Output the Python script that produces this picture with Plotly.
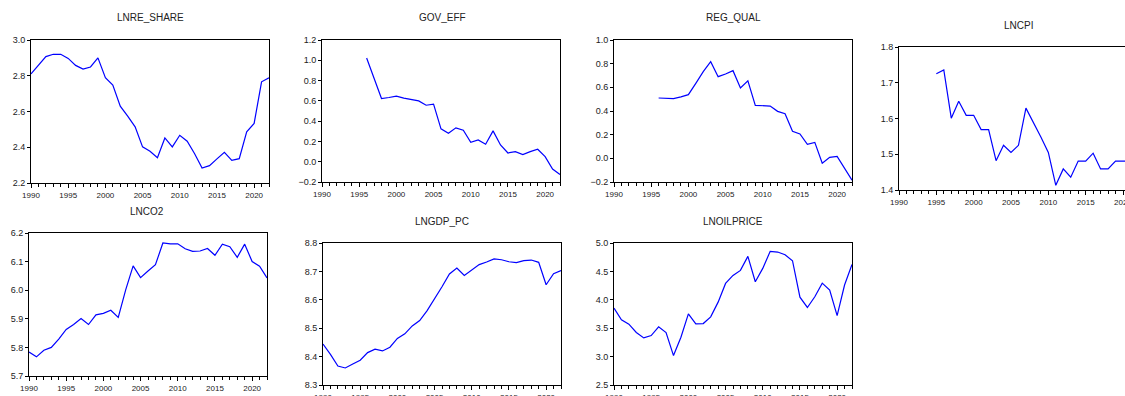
import plotly.graph_objects as go

years = list(range(1990, 2023))
years_96 = list(range(1996, 2023))
years_95 = list(range(1995, 2023))

lnre_share = [2.81, 2.86, 2.907, 2.92, 2.92, 2.897, 2.858, 2.837, 2.849, 2.90,
              2.789, 2.748, 2.63, 2.574, 2.514, 2.402, 2.378, 2.342, 2.452, 2.402,
              2.467, 2.434, 2.364, 2.284, 2.297, 2.335, 2.372, 2.327, 2.336, 2.486,
              2.533, 2.766, 2.789]

gov_eff = [1.022, 0.82, 0.623, 0.633, 0.646, 0.627, 0.610, 0.60, 0.557, 0.567,
           0.324, 0.281, 0.334, 0.31, 0.192, 0.215, 0.172, 0.304, 0.165, 0.086,
           0.10, 0.07, 0.10, 0.123, 0.05, -0.072, -0.125]

reg_qual = [0.51, 0.51, 0.504, 0.52, 0.538, 0.634, 0.732, 0.817, 0.69, 0.713,
            0.741, 0.594, 0.654, 0.448, 0.442, 0.442, 0.397, 0.377, 0.228, 0.206,
            0.118, 0.135, -0.042, 0.008, 0.017, -0.08, -0.185]

lncpi = [1.725, 1.736, 1.601, 1.648, 1.609, 1.609, 1.569, 1.569, 1.482, 1.525,
         1.505, 1.525, 1.629, 1.59, 1.548, 1.505, 1.413, 1.459, 1.436, 1.481,
         1.481, 1.503, 1.459, 1.459, 1.481, 1.481, 1.481, 1.481]

lnco2 = [5.784, 5.767, 5.79, 5.80, 5.829, 5.863, 5.88, 5.901, 5.88, 5.914,
         5.919, 5.93, 5.905, 6.001, 6.085, 6.044, 6.067, 6.089, 6.165, 6.162,
         6.162, 6.145, 6.136, 6.137, 6.146, 6.122, 6.161, 6.152, 6.115, 6.161,
         6.10, 6.084, 6.043]

lngdp_pc = [8.444, 8.408, 8.367, 8.36, 8.374, 8.387, 8.414, 8.426, 8.42, 8.433,
            8.464, 8.48, 8.508, 8.527, 8.562, 8.602, 8.646, 8.691, 8.712, 8.686,
            8.705, 8.724, 8.733, 8.744, 8.741, 8.734, 8.731, 8.738, 8.74, 8.732,
            8.653, 8.692, 8.703]

lnoilprice = [3.853, 3.647, 3.571, 3.424, 3.329, 3.371, 3.524, 3.424, 3.018, 3.341,
              3.753, 3.576, 3.582, 3.70, 3.959, 4.288, 4.429, 4.518, 4.765, 4.318,
              4.553, 4.853, 4.841, 4.794, 4.688, 4.047, 3.865, 4.053, 4.294, 4.171,
              3.72, 4.26, 4.62]

titles = ["LNRE_SHARE", "GOV_EFF", "REG_QUAL", "LNCPI", "LNCO2", "LNGDP_PC", "LNOILPRICE"]
series = [(years, lnre_share), (years_96, gov_eff), (years_96, reg_qual), (years_95, lncpi),
          (years, lnco2), (years, lngdp_pc), (years, lnoilprice)]
yranges = [(2.2, 3.0, 0.2), (-0.2, 1.2, 0.2), (-0.2, 1.0, 0.2), (1.4, 1.8, 0.1),
           (5.7, 6.2, 0.1), (8.3, 8.8, 0.1), (2.5, 5.0, 0.5)]

W, H = 1125, 396
# pixel boxes: left, right, top, bottom
boxes = [(31, 269, 40, 183), (322, 560, 40, 182), (614, 852, 40, 182), (899, 1125, 47, 190),
         (29, 267, 233, 376), (323, 561, 243, 385), (614, 852, 243, 385)]
title_x = [150, 442, 733, 1018, 147, 442, 733]

fig = go.Figure()
layout = dict(template="none", width=W, height=H, margin=dict(l=0, r=0, t=0, b=0, pad=0),
              autosize=False,
              paper_bgcolor="white", plot_bgcolor="white", showlegend=False,
              font=dict(family="Liberation Sans, Arial, sans-serif", color="#222"))
annotations = []
for i, ((xs, ys), title, (y0, y1, dt), (l, r, t, b), tx) in enumerate(
        zip(series, titles, yranges, boxes, title_x), start=1):
    sfx = "" if i == 1 else str(i)
    fig.add_trace(go.Scatter(x=xs, y=ys, mode="lines", line=dict(color="#0000FF", width=1.2),
                             xaxis="x" + sfx, yaxis="y" + sfx, hoverinfo="skip"))
    xend = 2022 if i != 4 else 2020 + (1125 - 1123) / 7.47
    layout["xaxis" + sfx] = dict(
        domain=[l / W, r / W], anchor="y" + sfx, range=[1990, xend], automargin=False,
        tickmode="linear", tick0=1990, dtick=5, ticks="outside", ticklen=4,
        tickcolor="black", tickwidth=1, ticklabeloverflow="allow",
        minor=dict(tick0=1990, dtick=1, ticks="outside", ticklen=3, tickcolor="black",
                   tickwidth=1, showgrid=False),
        showline=True, linecolor="black", linewidth=1, mirror=True,
        showgrid=False, zeroline=False, tickfont=dict(size=8, color="#222"), fixedrange=True)
    layout["yaxis" + sfx] = dict(
        domain=[1 - b / H, 1 - t / H], anchor="x" + sfx, range=[y0, y1], automargin=False,
        tickmode="linear", tick0=y0, dtick=dt, tickformat=".1f", ticks="outside", ticklen=3,
        tickcolor="black", tickwidth=1, showline=True, linecolor="black", linewidth=1,
        mirror=(i != 4), showgrid=False, zeroline=False,
        tickfont=dict(size=9, color="#222"), fixedrange=True)
    annotations.append(dict(text=title, x=tx / W, y=1 - (t - 22) / H, xref="paper", yref="paper",
                            showarrow=False, font=dict(size=10, color="#222"),
                            xanchor="center", yanchor="middle"))
layout["annotations"] = annotations
fig.update_layout(**layout)
fig.write_html("out.html", config={"displayModeBar": False, "staticPlot": True},
               post_script="document.body.style.margin='0';")
